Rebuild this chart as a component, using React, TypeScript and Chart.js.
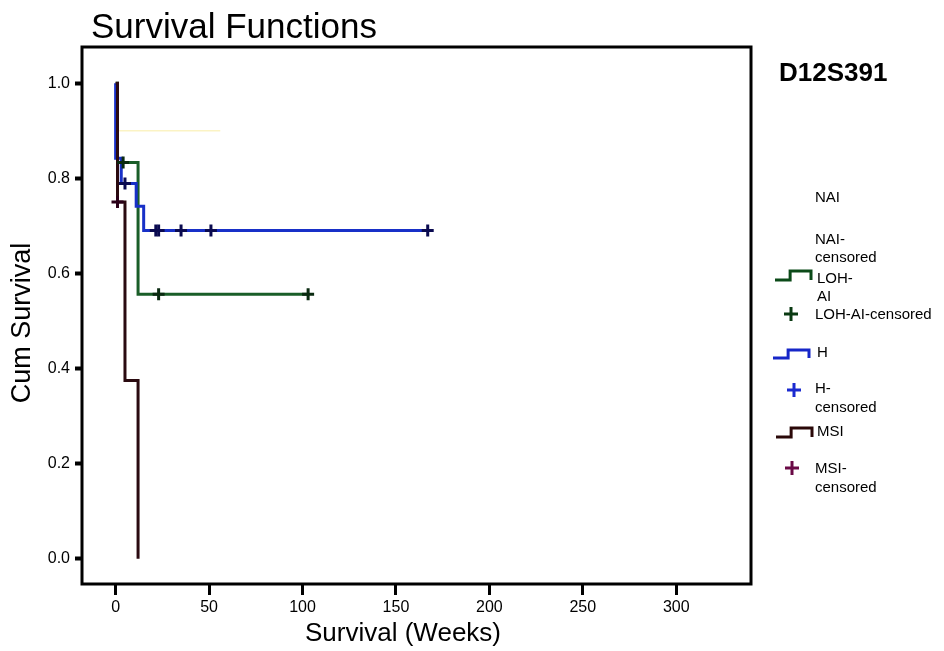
import React, { useEffect, useRef } from 'react';
import { Chart, registerables } from 'chart.js';

Chart.register(...registerables);

// ---- data ----
const X_TICKS = [0, 50, 100, 150, 200, 250, 300];
const Y_TICKS = [0, 0.2, 0.4, 0.6, 0.8, 1.0];

const NAI_T = [0, 0, 56];
const NAI_S = [1, 0.9, 0.9];

const LOH_T = [0, 1, 12, 103];
const LOH_S = [1, 0.833, 0.556, 0.556];
const LOH_CENS_T = [4, 23, 103];
const LOH_CENS_S = [0.833, 0.556, 0.556];

const H_T = [0, 0, 3, 11, 15, 167];
const H_S = [1, 0.842, 0.789, 0.741, 0.69, 0.69];
const H_CENS_T = [5, 21.5, 23, 35, 51, 167];
const H_CENS_S = [0.789, 0.69, 0.69, 0.69, 0.69, 0.69];

const MSI_T = [0, 1, 5, 12];
const MSI_S = [1, 0.75, 0.375, 0];
const MSI_CENS_T = [1];
const MSI_CENS_S = [0.75];

const TITLE = 'Survival Functions';
const MARKER = 'D12S391';
const X_LABEL = 'Survival (Weeks)';
const Y_LABEL = 'Cum Survival';

const FONT = '"Liberation Sans", Arial, Helvetica, sans-serif';

const pts = (t: number[], s: number[]) => t.map((x, i) => ({ x, y: s[i] }));

const W = 944;
const H = 651;
const AREA = { left: 82, top: 47, right: 751, bottom: 584 };

function stepIcon(ctx: CanvasRenderingContext2D, x0: number, x1: number, yHi: number, yLo: number, color: string) {
  const xm = x0 + (x1 - x0) * 0.42;
  ctx.beginPath();
  ctx.moveTo(x0, yLo);
  ctx.lineTo(xm, yLo);
  ctx.lineTo(xm, yHi);
  ctx.lineTo(x1, yHi);
  ctx.lineTo(x1, yLo);
  ctx.strokeStyle = color;
  ctx.lineWidth = 3;
  ctx.stroke();
}

function crossIcon(ctx: CanvasRenderingContext2D, x: number, y: number, color: string) {
  ctx.beginPath();
  ctx.moveTo(x - 7, y);
  ctx.lineTo(x + 7, y);
  ctx.moveTo(x, y - 7);
  ctx.lineTo(x, y + 7);
  ctx.strokeStyle = color;
  ctx.lineWidth = 3;
  ctx.stroke();
}

const decor = {
  id: 'decor',
  afterDraw(chart: any) {
    const { ctx, chartArea: a } = chart;
    ctx.save();
    // frame
    ctx.strokeStyle = '#000';
    ctx.lineWidth = 3;
    ctx.strokeRect(a.left, a.top, a.right - a.left, a.bottom - a.top);

    ctx.fillStyle = '#000';
    ctx.textBaseline = 'alphabetic';
    ctx.textAlign = 'left';
    ctx.font = `35px ${FONT}`;
    ctx.fillText(TITLE, 91, 38);

    ctx.font = `bold 26px ${FONT}`;
    ctx.fillText(MARKER, 779, 81);

    ctx.textAlign = 'center';
    ctx.textBaseline = 'middle';
    ctx.font = `26px ${FONT}`;
    ctx.fillText(X_LABEL, 403, 634);

    ctx.save();
    ctx.translate(23, 323);
    ctx.rotate(-Math.PI / 2);
    ctx.font = `27px ${FONT}`;
    ctx.fillText(Y_LABEL, 0, 0);
    ctx.restore();

    // legend
    ctx.textAlign = 'left';
    ctx.textBaseline = 'middle';
    ctx.font = `15px ${FONT}`;
    const tx = 815;
    ctx.fillText('NAI', tx, 198);
    ctx.fillText('NAI-', tx, 240);
    ctx.fillText('censored', tx, 258);

    stepIcon(ctx, 775, 811, 271, 280, '#0b4a18');
    ctx.fillText('LOH-', 817, 279);
    ctx.fillText('AI', 817, 297);

    crossIcon(ctx, 791, 314, '#0a3a12');
    ctx.fillText('LOH-AI-censored', tx, 315);

    stepIcon(ctx, 773, 809, 350, 358, '#1626c8');
    ctx.fillText('H', 817, 353);

    crossIcon(ctx, 794, 390, '#1a2ad0');
    ctx.fillText('H-', tx, 389);
    ctx.fillText('censored', tx, 408);

    stepIcon(ctx, 776, 812, 428, 437, '#2a0808');
    ctx.fillText('MSI', 817, 432);

    crossIcon(ctx, 792, 468, '#6a0a46');
    ctx.fillText('MSI-', tx, 469);
    ctx.fillText('censored', tx, 488);

    ctx.restore();
  },
};

export default function App() {
  const ref = useRef<HTMLCanvasElement>(null);

  useEffect(() => {
    document.body.style.margin = '0';
    const canvas = ref.current;
    if (!canvas) return;

    const line = (label: string, t: number[], s: number[], color: string, width = 3) => ({
      type: 'line' as const,
      label,
      data: pts(t, s),
      borderColor: color,
      backgroundColor: color,
      borderWidth: width,
      pointRadius: 0,
      stepped: 'before' as const,
      fill: false,
    });
    const cens = (label: string, t: number[], s: number[], color: string) => ({
      type: 'scatter' as const,
      label,
      data: pts(t, s),
      borderColor: color,
      backgroundColor: color,
      pointStyle: 'cross' as const,
      pointRadius: 6,
      pointBorderWidth: 3,
      showLine: false,
    });

    const chart = new Chart(canvas, {
      type: 'line',
      data: {
        datasets: [
          cens('MSI-censored', MSI_CENS_T, MSI_CENS_S, '#2a0018'),
          cens('H-censored', H_CENS_T, H_CENS_S, '#0a0a50'),
          cens('LOH-AI-censored', LOH_CENS_T, LOH_CENS_S, '#0a2a10'),
          line('MSI', MSI_T, MSI_S, '#2a0a10'),
          line('H', H_T, H_S, '#1830c8'),
          line('LOH-AI', LOH_T, LOH_S, '#1a5e28'),
          line('NAI', NAI_T, NAI_S, '#fbf3c4', 1.5),
        ] as any,
      },
      options: {
        responsive: false,
        animation: false,
        layout: {
          padding: {
            left: 0,
            top: AREA.top,
            right: W - AREA.right,
            bottom: 0,
          },
        },
        plugins: {
          legend: { display: false },
          tooltip: { enabled: false },
          title: { display: false },
        },
        scales: {
          x: {
            type: 'linear',
            min: -18,
            max: 340,
            afterFit: (s: any) => { s.height = H - AREA.bottom; },
            afterBuildTicks: (s: any) => { s.ticks = X_TICKS.map((v) => ({ value: v })); },
            border: { display: false },
            grid: {
              drawOnChartArea: false,
              drawTicks: true,
              tickLength: 11,
              tickWidth: 3,
              color: '#000',
            },
            ticks: {
              color: '#000',
              padding: 3,
              maxRotation: 0,
              autoSkip: false,
              font: { family: FONT, size: 16 },
              callback: (v: any) => String(v),
            },
          },
          y: {
            type: 'linear',
            min: -0.053,
            max: 1.076,
            afterFit: (s: any) => { s.width = AREA.left; },
            afterBuildTicks: (s: any) => { s.ticks = Y_TICKS.map((v) => ({ value: v })); },
            border: { display: false },
            grid: {
              drawOnChartArea: false,
              drawTicks: true,
              tickLength: 7,
              tickWidth: 4,
              color: '#000',
            },
            ticks: {
              color: '#000',
              padding: 5,
              autoSkip: false,
              font: { family: FONT, size: 16 },
              callback: (v: any) => Number(v).toFixed(1),
            },
          },
        },
      },
      plugins: [decor],
    });

    return () => chart.destroy();
  }, []);

  return (
    <div style={{ width: W, height: H, position: 'relative', background: '#fff' }}>
      <canvas ref={ref} width={W} height={H} style={{ display: 'block' }} />
    </div>
  );
}
